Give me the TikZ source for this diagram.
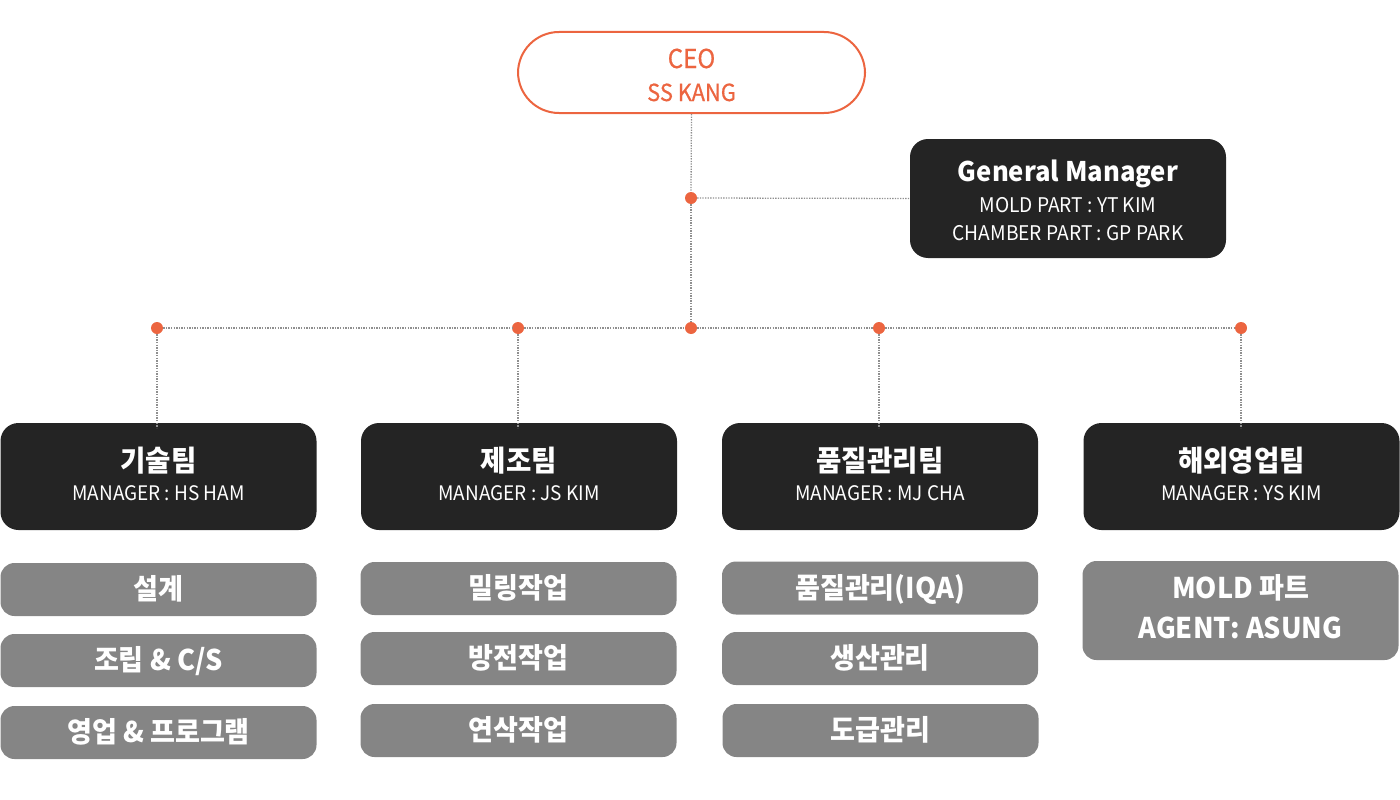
\documentclass[tikz,border=0pt]{standalone}
\usepackage{fontspec}
\setmainfont{Noto Sans CJK KR}[FakeStretch=0.95]
\newfontfamily\medfont{Noto Sans CJK KR}[FakeStretch=0.93, FakeBold=0.6]
\definecolor{orng}{HTML}{EC6540}
\definecolor{darkbox}{HTML}{242424}
\definecolor{greybox}{HTML}{858585}
\definecolor{dotline}{HTML}{8F8F8F}
\tikzset{
  ceobox/.style={draw=orng, line width=2pt, fill=white, rounded corners=41pt, minimum width=347pt, minimum height=81pt, inner sep=0pt},
  darkrect/.style={fill=darkbox, rounded corners=18pt, minimum width=316pt, inner sep=0pt},
  greyrect/.style={fill=greybox, rounded corners=14pt, minimum width=316pt, minimum height=53pt, inner sep=0pt},
  link/.style={draw=dotline, line width=1.3pt, dash pattern=on 1.3pt off 1.3pt},
  jdot/.style={circle, fill=orng, minimum size=12pt, inner sep=0pt},
  ceotxt/.style={text=orng, anchor=base, inner sep=0pt},
  wtxt/.style={text=white, anchor=base, inner sep=0pt},
  titletxt/.style={wtxt, font=\fontsize{29}{34}\bfseries\selectfont},
  mgrtxt/.style={wtxt, font=\fontsize{20}{24}\selectfont},
  greytxt/.style={wtxt, font=\fontsize{28.5}{32}\bfseries\selectfont},
}
\begin{document}
\begin{tikzpicture}[x=1pt,y=-1pt]
\useasboundingbox (0,0) rectangle (1400,800);
% junction dots
\node[jdot] (d1) at (157,328) {};
\node[jdot] (d2) at (518,328) {};
\node[jdot] (dm) at (691,328) {};
\node[jdot] (d3) at (879,328) {};
\node[jdot] (d4) at (1241,328) {};
\node[jdot] (dg) at (691,198) {};
% boxes
\node[ceobox] (ceo) at (691.5,72.5) {};
\node[darkrect, minimum height=119pt] (gm) at (1068,198.5) {};
\node[darkrect, minimum height=107pt] (t1) at (158.5,476.5) {};
\node[darkrect, minimum height=107pt] (t2) at (519,476.5) {};
\node[darkrect, minimum height=107pt] (t3) at (880,476.5) {};
\node[darkrect, minimum height=107pt] (t4) at (1241.5,476.5) {};
% connectors
\draw[link] (ceo.south) -- (dg.north);
\draw[link] (dg.south) -- (dm.north);
\draw[link] (dg.east) -- (gm.west);
\draw[link] (d1.east) -- (d2.west);
\draw[link] (d2.east) -- (dm.west);
\draw[link] (dm.east) -- (d3.west);
\draw[link] (d3.east) -- (d4.west);
\draw[link] (d1.south) -- ([yshift=-5pt]t1.north -| d1);
\draw[link] (d2.south) -- ([yshift=-5pt]t2.north -| d2);
\draw[link] (d3.south) -- ([yshift=-5pt]t3.north -| d3);
\draw[link] (d4.south) -- ([yshift=-5pt]t4.north -| d4);
% texts
\node[ceotxt, font=\medfont\fontsize{26}{30}\selectfont] (ceo1) at (691.5,68) {CEO};
\node[ceotxt, font=\medfont\fontsize{23.5}{28}\selectfont] (ceo2) at (691.5,101) {SS KANG};
\node[wtxt, font=\fontsize{27}{32}\bfseries\selectfont] (gm1) at (1068,181) {General Manager};
\node[wtxt, font=\fontsize{20.2}{24}\selectfont] (gm2) at (1068,212) {MOLD PART : YT KIM};
\node[wtxt, font=\fontsize{20.2}{24}\selectfont] (gm3) at (1068,240) {CHAMBER PART : GP PARK};
\node[titletxt] (t1a) at (158.5,471) {기술팀};
\node[mgrtxt] (t1b) at (158.5,500) {MANAGER : HS HAM};
\node[titletxt] (t2a) at (519,471) {제조팀};
\node[mgrtxt] (t2b) at (519,500) {MANAGER : JS KIM};
\node[titletxt] (t3a) at (880,471) {품질관리팀};
\node[mgrtxt] (t3b) at (880,500) {MANAGER : MJ CHA};
\node[titletxt] (t4a) at (1241.5,471) {해외영업팀};
\node[mgrtxt] (t4b) at (1241.5,500) {MANAGER : YS KIM};
% grey boxes
\node[greyrect] (g11) at (158.5,589.5) {};
\node[greyrect] (g12) at (158.5,660.5) {};
\node[greyrect] (g13) at (158.5,732.5) {};
\node[greyrect] (g21) at (518.5,588.5) {};
\node[greyrect] (g22) at (518.5,658.5) {};
\node[greyrect] (g23) at (518.5,730.5) {};
\node[greyrect] (g31) at (880,588) {};
\node[greyrect] (g32) at (880,658.5) {};
\node[greyrect] (g33) at (880.5,730.5) {};
\node[greyrect, minimum height=99pt] (g41) at (1240.5,610.5) {};
\node[greytxt] (g11t) at (158.5,599.5) {설계};
\node[greytxt] (g12t) at (158.5,670.5) {조립 \& C/S};
\node[greytxt] (g13t) at (158.5,742.5) {영업 \& 프로그램};
\node[greytxt] (g21t) at (518.5,598.5) {밀링작업};
\node[greytxt] (g22t) at (518.5,668.5) {방전작업};
\node[greytxt] (g23t) at (518.5,740.5) {연삭작업};
\node[greytxt] (g31t) at (880,598) {품질관리(IQA)};
\node[greytxt] (g32t) at (880,668.5) {생산관리};
\node[greytxt] (g33t) at (880.5,740.5) {도급관리};
\node[greytxt] (g41a) at (1240.5,598) {MOLD 파트};
\node[greytxt] (g41b) at (1240.5,638) {AGENT: ASUNG};
\end{tikzpicture}
\end{document}
